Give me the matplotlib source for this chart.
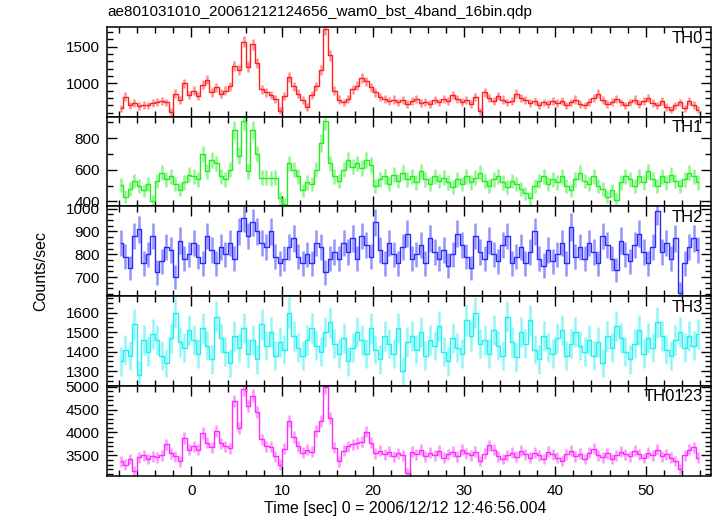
import numpy as np
import matplotlib
matplotlib.use("Agg")
import matplotlib.pyplot as plt
from matplotlib.ticker import MultipleLocator

plt.rcParams['font.family'] = ['Liberation Sans', 'DejaVu Sans']

title = "ae801031010_20061212124656_wam0_bst_4band_16bin.qdp"
xlabel = "Time [sec] 0 = 2006/12/12 12:46:56.004"
ylabel = "Counts/sec"

binsize = 0.5
t_start = -7.75
# error bars in the file look wider than plain Poisson ones
err_scale = 1.4

# count rates, one value per 0.5 s bin
th0 = [660, 820, 700, 730, 690, 710, 700, 730,
       750, 760, 740, 610, 860, 770, 1000, 840,
       900, 830, 980, 1050, 880, 950, 860, 900,
       960, 1240, 1180, 1570, 1230, 1530, 1280, 920,
       880, 840, 790, 630, 830, 1090, 960, 860,
       770, 680, 840, 960, 1180, 1740, 1380, 900,
       780, 740, 790, 920, 970, 1070, 1030, 950,
       880, 810, 790, 760, 780, 740, 770, 720,
       760, 790, 730, 750, 720, 770, 740, 790,
       760, 840, 790, 750, 770, 720, 810, 620,
       880, 800, 760, 830, 780, 740, 760, 860,
       800, 770, 730, 760, 700, 740, 720, 760,
       730, 760, 700, 740, 780, 720, 700, 750,
       800, 860, 770, 720, 750, 790, 740, 700,
       740, 780, 720, 760, 800, 730, 700, 760,
       680, 640, 700, 740, 660, 760, 710, 640]

th1 = [505, 430, 480, 530, 495, 470, 510, 400,
       530, 580, 540, 560, 510, 475, 520, 570,
       560, 540, 700, 590, 660, 640, 560, 540,
       600, 850, 690, 910, 590, 850, 700, 550,
       550, 545, 550, 420, 385, 640, 600, 560,
       470, 520, 510, 600, 770, 910, 640, 560,
       530, 600, 660, 620, 640, 610, 660, 630,
       500, 540, 560, 510, 570, 530, 580, 540,
       560, 520, 590, 540, 510, 560, 530, 550,
       520, 490, 540, 510, 560, 520, 550, 580,
       530, 500, 540, 560, 520, 490, 530, 510,
       480, 450, 420, 500, 530, 560, 510, 540,
       520, 560, 500, 470, 540, 580, 530, 510,
       560, 500, 480, 430, 470, 410, 520, 560,
       540, 500, 560, 520, 590, 540, 500, 560,
       520, 570, 530, 500, 540, 580, 560, 520]

th2 = [850, 790, 740, 880, 910, 760, 800, 880,
       720, 770, 830, 820, 700, 860, 780, 800,
       850, 790, 760, 880, 820, 760, 830, 800,
       850, 780, 900, 960, 880, 940, 900, 850,
       830, 900, 790, 760, 780, 830, 870, 790,
       760, 800, 760, 850, 830, 720, 780, 810,
       780, 850, 810, 870, 780, 880, 840, 790,
       940, 820, 760, 850, 800, 760, 830, 890,
       780, 800, 840, 760, 870, 810, 780, 820,
       750, 800, 890, 840, 790, 740, 880, 810,
       780, 860, 800, 770, 840, 880, 760, 790,
       830, 760, 810, 900, 780, 750, 820, 770,
       800, 850, 760, 920, 790, 830, 780, 850,
       810, 760, 880, 840, 780, 730, 860, 800,
       770, 840, 890, 810, 760, 830, 990, 810,
       850, 780, 870, 630, 760, 830, 870, 820]

th3 = [1350, 1410, 1380, 1540, 1280, 1460, 1400, 1490,
       1460, 1380, 1340, 1470, 1600, 1450, 1420, 1510,
       1460, 1390, 1520, 1430, 1360, 1580, 1470, 1400,
       1340, 1480, 1420, 1520, 1390, 1460, 1360, 1540,
       1430, 1500, 1380, 1450, 1410, 1600, 1480, 1420,
       1380, 1460, 1520, 1430, 1400, 1500, 1550, 1440,
       1390, 1470, 1350, 1420, 1500, 1460, 1390, 1520,
       1410, 1360, 1480, 1440, 1390, 1520, 1300, 1450,
       1480, 1410, 1500, 1380, 1460, 1430, 1530, 1400,
       1350, 1470, 1420, 1390, 1560, 1480, 1600, 1440,
       1460, 1390, 1510, 1430, 1380, 1580, 1450, 1370,
       1500, 1440, 1560, 1410, 1360, 1480, 1420, 1390,
       1470, 1510, 1380, 1440, 1500, 1430, 1400, 1460,
       1380, 1450, 1340, 1480, 1420, 1530, 1470, 1400,
       1360, 1440, 1510, 1390, 1470, 1420, 1550, 1480,
       1410, 1380, 1460, 1500, 1420, 1480, 1430, 1490]

th0123 = [3370, 3300, 3420, 3150, 3460, 3500, 3420, 3480,
          3460, 3500, 3740, 3550, 3480, 3370, 3880, 3620,
          3700, 3620, 3990, 3780, 3680, 4030, 3760, 3700,
          3660, 4680, 4100, 4940, 4570, 4800, 4450, 3850,
          3700, 3690, 3480, 3300, 3650, 4250, 3900, 3700,
          3560, 3620, 3580, 4030, 4250, 4980, 4320, 3670,
          3370, 3600, 3700, 3740, 3770, 3800, 4020, 3780,
          3550, 3600, 3520, 3580, 3480, 3550, 3500, 3120,
          3580, 3520, 3620, 3480, 3560, 3500, 3600, 3450,
          3520, 3580, 3480, 3620, 3550, 3500, 3580, 3380,
          3540, 3720, 3620, 3480, 3420, 3500, 3560, 3470,
          3600, 3520, 3450, 3560, 3500, 3420, 3580, 3520,
          3450, 3380, 3520, 3600, 3480, 3540, 3420, 3560,
          3650, 3500, 3460, 3550, 3420, 3500, 3580, 3520,
          3480, 3600, 3520, 3440, 3560, 3500, 3620, 3480,
          3520, 3450, 3380, 3200, 3500, 3620, 3680, 3450]

bands = ["TH0", "TH1", "TH2", "TH3", "TH0123"]
series = [th0, th1, th2, th3, th0123]
colors = ["#ff2020", "#22ee22", "#2a2aff", "#22f0f0", "#ff2cff"]
ylims = [(546, 1768), (368, 936), (616, 1010), (1224, 1685), (3060, 5015)]
majors = [500, 200, 100, 100, 500]
minors = [100, 100, 25, 25, 100]

fig = plt.figure(figsize=(7.17, 5.16), dpi=100)
W, H = 717, 516
left, right, top, bottom = 106.7, 710.5, 27.0, 475.6
ph = (bottom - top) / 5

for k in range(5):
    y0 = top + k * ph
    ax = fig.add_axes([left / W, 1 - (y0 + ph) / H, (right - left) / W, ph / H])
    rate = np.array(series[k], dtype=float)
    t = t_start + binsize * np.arange(len(rate))
    err = err_scale * np.sqrt(rate / binsize)
    ax.errorbar(t, rate, yerr=err, fmt='none', ecolor=colors[k], elinewidth=1.8, alpha=0.5)
    ax.step(t, rate, where='mid', color=colors[k], lw=1.0)
    ax.set_xlim(-9.3, 57.1)
    ax.set_ylim(*ylims[k])
    ax.xaxis.set_major_locator(MultipleLocator(10))
    ax.xaxis.set_minor_locator(MultipleLocator(2))
    ax.yaxis.set_major_locator(MultipleLocator(majors[k]))
    ax.yaxis.set_minor_locator(MultipleLocator(minors[k]))
    ax.tick_params(which='both', direction='in', top=True, right=True, labelsize=11, width=1)
    ax.tick_params(which='major', length=7, pad=5)
    ax.tick_params(which='minor', length=4)
    ax.tick_params(axis='x', pad=6)
    for sp in ax.spines.values():
        sp.set_linewidth(1.1)
    if k < 4:
        ax.tick_params(labelbottom=False)
    ax.text(0.987, 0.877, bands[k], transform=ax.transAxes, ha='right', va='center', fontsize=12)

fig.text(107 / W, 1 - 12 / H, title, ha='left', va='center', fontsize=11)
fig.text(405 / W, 1 - 508 / H, xlabel, ha='center', va='center', fontsize=11.5)
fig.text(41 / W, 1 - 271 / H, ylabel, ha='center', va='center', rotation=90, fontsize=11.5)

fig.savefig("out.png", dpi=100)
